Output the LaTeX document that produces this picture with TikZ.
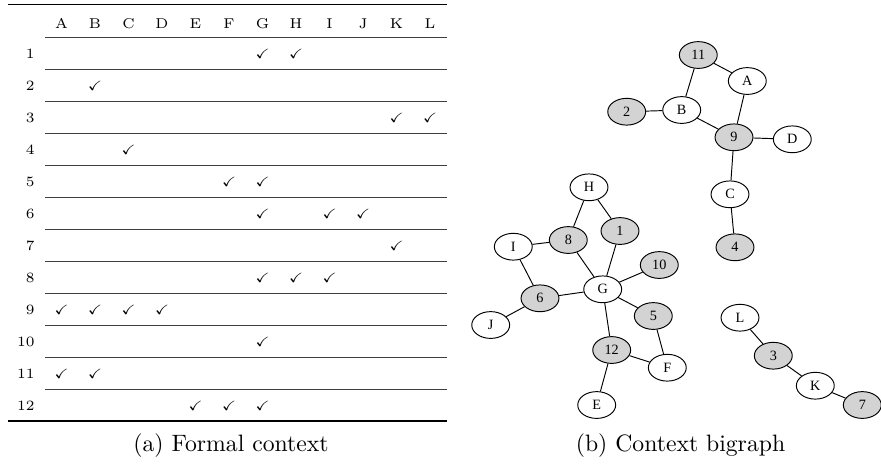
\documentclass[tikz,border=0pt]{standalone}
\usepackage{amssymb}
\usepackage{fontspec}
\newfontfamily\gvfont{Liberation Serif}
\usetikzlibrary{shapes.geometric}
\definecolor{lgray}{RGB}{211,211,211}
\tikzset{
  tabtxt/.style={font=\fontsize{6}{7}\selectfont, inner sep=0pt},
  chk/.style={font=\fontsize{5.6}{6}\selectfont, inner sep=0pt},
  heavyrule/.style={line width=0.55pt},
  lightrule/.style={line width=0.3pt, black!75},
  gn/.style={ellipse, draw, line width=0.4pt, minimum width=16pt, minimum height=11.3pt, inner sep=0pt, font=\gvfont\fontsize{6}{7}\selectfont},
  obj/.style={gn, fill=lgray},
  gedge/.style={line width=0.4pt},
  captxt/.style={font=\fontsize{10}{12}\selectfont, inner sep=0pt}
}
\begin{document}
\begin{tikzpicture}[x=0.422pt,y=-0.422pt]
\useasboundingbox (0,0) rectangle (881,464);
% ---------- table ----------
\draw[heavyrule] (8,4.7) -- (447,4.7);
\draw[heavyrule] (8,421) -- (447,421);
\foreach \k in {0,...,11} {
  \draw[lightrule] (45,37+32*\k) -- (447,37+32*\k);
}
\foreach \c [count=\i] in {A,B,C,D,E,F,G,H,I,J,K,L} {
  \node[tabtxt] (h\c) at (61.5+33.5*\i-33.5,23.5) {\c};
}
\foreach \r in {1,...,12} {
  \node[tabtxt, anchor=east] (r\r) at (35,53.5+32*\r-32) {\r};
}
\foreach \r/\cl in {1/{7,8},2/{2},3/{11,12},4/{3},5/{6,7},6/{7,9,10},7/{11},8/{7,8,9},9/{1,2,3,4},10/{7},11/{1,2},12/{5,6,7}} {
  \foreach \c in \cl {
    \node[chk] (c\r-\c) at (61.5+33.5*\c-33.5,53.5+32*\r-32) {$\checkmark$};
  }
}
\node[captxt] (capa) at (231,446) {(a) Formal context};
% ---------- graph ----------
\node[obj] (n11) at (698.3,55) {11};
\node[gn]  (A)   at (747.3,81) {A};
\node[obj] (n2)  at (626.7,111.7) {2};
\node[gn]  (B)   at (681.7,110) {B};
\node[obj] (n9)  at (734,137.3) {9};
\node[gn]  (D)   at (792.3,139.3) {D};
\node[gn]  (C)   at (730,194.3) {C};
\node[obj] (n4)  at (735,247.3) {4};
\node[gn]  (H)   at (589,187.3) {H};
\node[obj] (n1)  at (620,231) {1};
\node[obj] (n8)  at (568.3,240) {8};
\node[gn]  (I)   at (513.3,246.7) {I};
\node[obj] (n10) at (659.3,265) {10};
\node[gn]  (G)   at (602.7,289.3) {G};
\node[obj] (n6)  at (540,298.3) {6};
\node[gn]  (J)   at (490.7,325) {J};
\node[obj] (n5)  at (653.3,316) {5};
\node[obj] (n12) at (611.7,350) {12};
\node[gn]  (F)   at (667.3,367.7) {F};
\node[gn]  (E)   at (596.7,405) {E};
\node[gn]  (L)   at (740,317.7) {L};
\node[obj] (n3)  at (773.3,355.7) {3};
\node[gn]  (K)   at (815.3,385.7) {K};
\node[obj] (n7)  at (862.3,405) {7};
\foreach \a/\b in {n11/A,n11/B,n2/B,B/n9,A/n9,n9/D,n9/C,C/n4,
  H/n8,H/n1,I/n8,I/n6,n8/G,n1/G,n10/G,n6/G,J/n6,G/n5,G/n12,n5/F,n12/F,n12/E,
  L/n3,n3/K,K/n7} {
  \draw[gedge] (\a) -- (\b);
}
\node[captxt] (capb) at (680.5,446) {(b) Context bigraph};
\end{tikzpicture}
\end{document}
